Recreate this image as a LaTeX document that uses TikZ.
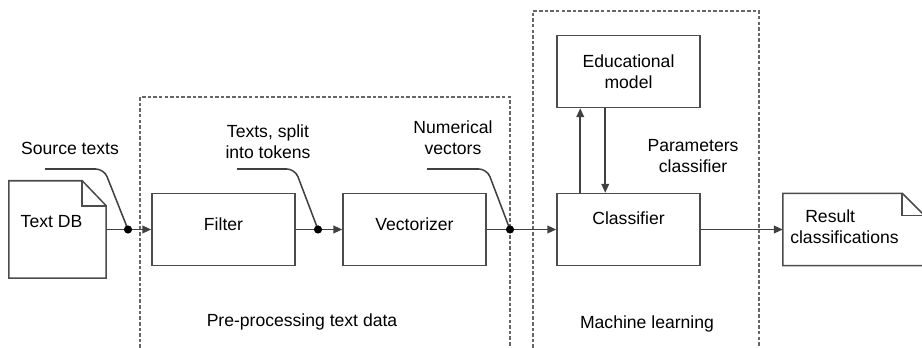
\documentclass[tikz,border=0pt]{standalone}
\usepackage{fontspec}
\setmainfont{Liberation Sans}
\usetikzlibrary{arrows.meta,calc,positioning}

\begin{document}
\begin{tikzpicture}[x=0.03cm,y=-0.03cm,
  every node/.style={font=\fontsize{15}{18}\selectfont},
  box/.style={draw=black!70,line width=1.3pt,minimum width=4.29cm,minimum height=2.16cm,align=center},
  docline/.style={draw=black!70,line width=1.3pt,line join=miter},
  flow/.style={draw=black!75,line width=1.3pt,-{Triangle[length=7.5pt,width=6.5pt]}},
  lead/.style={draw=black!75,line width=1.3pt,rounded corners=7pt},
  zone/.style={draw=black!60,line width=1.3pt,dash pattern=on 3pt off 1.8pt},
  dot/.style={circle,fill=black,inner sep=0pt,minimum size=7pt}]
\useasboundingbox (0,0) rectangle (922,348);

% dashed zones
\draw[zone] (140,348) -- (140,97) -- (510,97) -- (510,348);
\draw[zone] (533,348) -- (533,11) -- (759,11) -- (759,348);
\node (pretxt) at (302,322) {Pre-processing text data};
\node (mltxt) at (647,324) {Machine learning};

% source document
\node[minimum width=2.91cm,minimum height=2.91cm] (db) at (57.5,229.5) {};
\draw[docline] (db.north west) -- ($(db.north east)+(-24,0)$) -- ($(db.north east)+(0,25)$)
   -- (db.south east) -- (db.south west) -- cycle;
\draw[docline] ($(db.north east)+(-24,0)$) |- ($(db.north east)+(0,25)$);
\node (dbtxt) at (51.5,222) {Text DB};

% blocks
\node[box,text depth=10pt] (filter) at (223.5,229.5) {Filter};
\node[box,text depth=10pt] (vect) at (414.5,229.5) {Vectorizer};
\node[box,text depth=20pt] (cls) at (628.5,229.5) {Classifier};
\node[box] (edu) at (628.5,71.5) {Educational\\model};

% result document
\node[minimum width=4.23cm,minimum height=2.16cm] (res) at (853.5,229.5) {};
\draw[docline] (res.north west) -- ($(res.north east)+(-22,0)$) -- ($(res.north east)+(0,22)$)
   -- (res.south east) -- (res.south west) -- cycle;
\draw[docline] ($(res.north east)+(-22,0)$) |- ($(res.north east)+(0,22)$);
\node[align=left] (restxt) at (844.5,227) {\hspace{0.45cm}Result\\classifications};

% junctions
\coordinate (j1) at (128,229.5);
\coordinate (j2) at (318,229.5);
\coordinate (j3) at (510,229.5);

\draw[flow] (j1 -| db.east) -- (j1) -- (filter.west);
\draw[flow] (filter.east) -- (j2) -- (vect.west);
\draw[flow] (vect.east) -- (j3) -- (cls.west);
\draw[flow] (cls.east) -- (res.west);
\draw[flow] ($(cls.north west)+(24,0)$) -- ($(edu.south west)+(24,0)$);
\draw[flow] ($(edu.south west)+(49,0)$) -- ($(cls.north west)+(49,0)$);

% labels with leaders
\node[align=center] (srctxt) at (70,148) {Source texts};
\node[align=center] (toktxt) at (268,142) {Texts, split\\into tokens};
\node[align=center] (numtxt) at (453,138) {Numerical\\vectors};
\node[align=center] (partxt) at (693,156) {Parameters\\classifier};

\coordinate (s1) at (45,169);
\coordinate (s2) at (237,169);
\coordinate (s3) at (427,169);
\draw[lead] (s1) -- (104,169) -- (j1);
\draw[lead] (s2) -- (295,169) -- (j2);
\draw[lead] (s3) -- (487,169) -- (j3);

\node[dot] (d1) at (j1) {};
\node[dot] (d2) at (j2) {};
\node[dot] (d3) at (j3) {};
\end{tikzpicture}
\end{document}
